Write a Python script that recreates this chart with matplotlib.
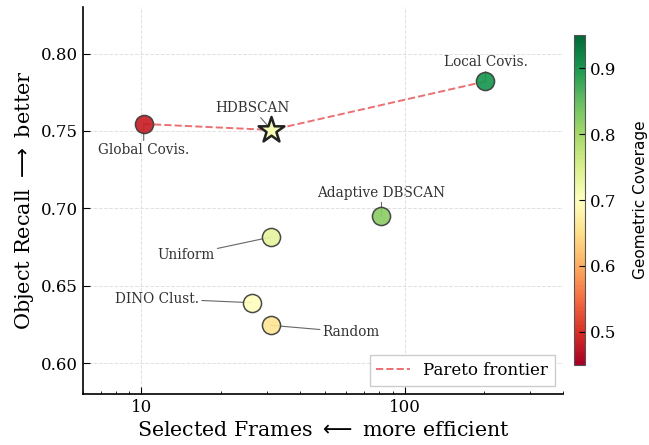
import matplotlib

matplotlib.use("Agg")
import matplotlib.pyplot as plt
from matplotlib.ticker import FuncFormatter, NullFormatter


methods = ["Global Covis.", "HDBSCAN", "Local Covis.", "Adaptive DBSCAN",
           "Uniform", "DINO Clust.", "Random"]
frames = [10.2, 31.2, 203.0, 81.7, 31.0, 26.2, 31.0]
recall = [0.7545, 0.7506, 0.782, 0.6949, 0.6814, 0.639, 0.6244]
coverage = [0.485, 0.71, 0.90, 0.82, 0.73, 0.70, 0.66]
pareto = ["Global Covis.", "HDBSCAN", "Local Covis."]

# label offsets in points (text centre relative to marker)
label_offsets = {
    "Global Covis.": (0, -19),
    "HDBSCAN": (-14, 16),
    "Local Covis.": (0, 14),
    "Adaptive DBSCAN": (0, 17),
    "Uniform": (-61, -13),
    "DINO Clust.": (-68, 3),
    "Random": (58, -5),
}

plt.rcParams["font.family"] = "DejaVu Serif"

fig = plt.figure(figsize=(6.49, 4.45), dpi=100)
ax = fig.add_axes([0.128, 0.1146, 0.7395, 0.8694])
cax = fig.add_axes([0.884, 0.18, 0.017, 0.741])

cmap = plt.get_cmap("RdYlGn")
norm = plt.Normalize(0.45, 0.95)

idx = [methods.index(m) for m in pareto]
ax.plot([frames[i] for i in idx], [recall[i] for i in idx], linestyle="--",
        color="#e8575a", alpha=0.85, linewidth=1.4, label="Pareto frontier",
        zorder=2)

for name, x, y, c in zip(methods, frames, recall, coverage):
    if name == "HDBSCAN":
        ax.scatter(x, y, s=380, marker="*", c=[c], cmap=cmap, norm=norm,
                   edgecolors="#222222", linewidths=1.8, zorder=4)
    else:
        ax.scatter(x, y, s=170, marker="o", c=[c], cmap=cmap, norm=norm,
                   edgecolors="#3a3a3a", linewidths=1.1, alpha=0.92, zorder=3)
    ax.annotate(name, (x, y), xytext=label_offsets[name],
                textcoords="offset points", ha="center", va="center",
                fontsize=9.8, color="#333333",
                arrowprops=dict(arrowstyle="-", color="#666666", lw=0.8,
                                shrinkA=0, shrinkB=0),
                zorder=1)

ax.set_xscale("log")
ax.set_xlim(6, 400)
ax.set_ylim(0.58, 0.83)
ax.set_yticks([0.60, 0.65, 0.70, 0.75, 0.80])
ax.xaxis.set_major_formatter(FuncFormatter(lambda v, pos: f"{v:g}"))
ax.xaxis.set_minor_formatter(NullFormatter())
ax.set_xlabel("Selected Frames $\\longleftarrow$ more efficient", fontsize=14.8)
ax.set_ylabel("Object Recall $\\longrightarrow$ better", fontsize=15)
ax.tick_params(axis="both", which="both", direction="in", labelsize=12)
ax.tick_params(axis="both", which="major", length=5)
ax.grid(True, which="major", linestyle="--", color="#e0e0e0", linewidth=0.7)
ax.spines["top"].set_visible(False)
ax.spines["right"].set_visible(False)
ax.spines["left"].set_linewidth(1.2)
ax.spines["bottom"].set_linewidth(1.2)

leg = ax.legend(loc="lower right", fontsize=12, fancybox=False,
                framealpha=1, edgecolor="#cccccc")

sm = plt.cm.ScalarMappable(cmap=cmap, norm=norm)
cb = fig.colorbar(sm, cax=cax)
cb.set_ticks([0.5, 0.6, 0.7, 0.8, 0.9])
cb.ax.tick_params(direction="in", labelsize=12, length=4)
cb.outline.set_edgecolor("#555555")
cb.set_label("Geometric Coverage", fontsize=11, family="DejaVu Sans",
             labelpad=12)

fig.savefig("out.png", dpi=100)
plt.close(fig)
